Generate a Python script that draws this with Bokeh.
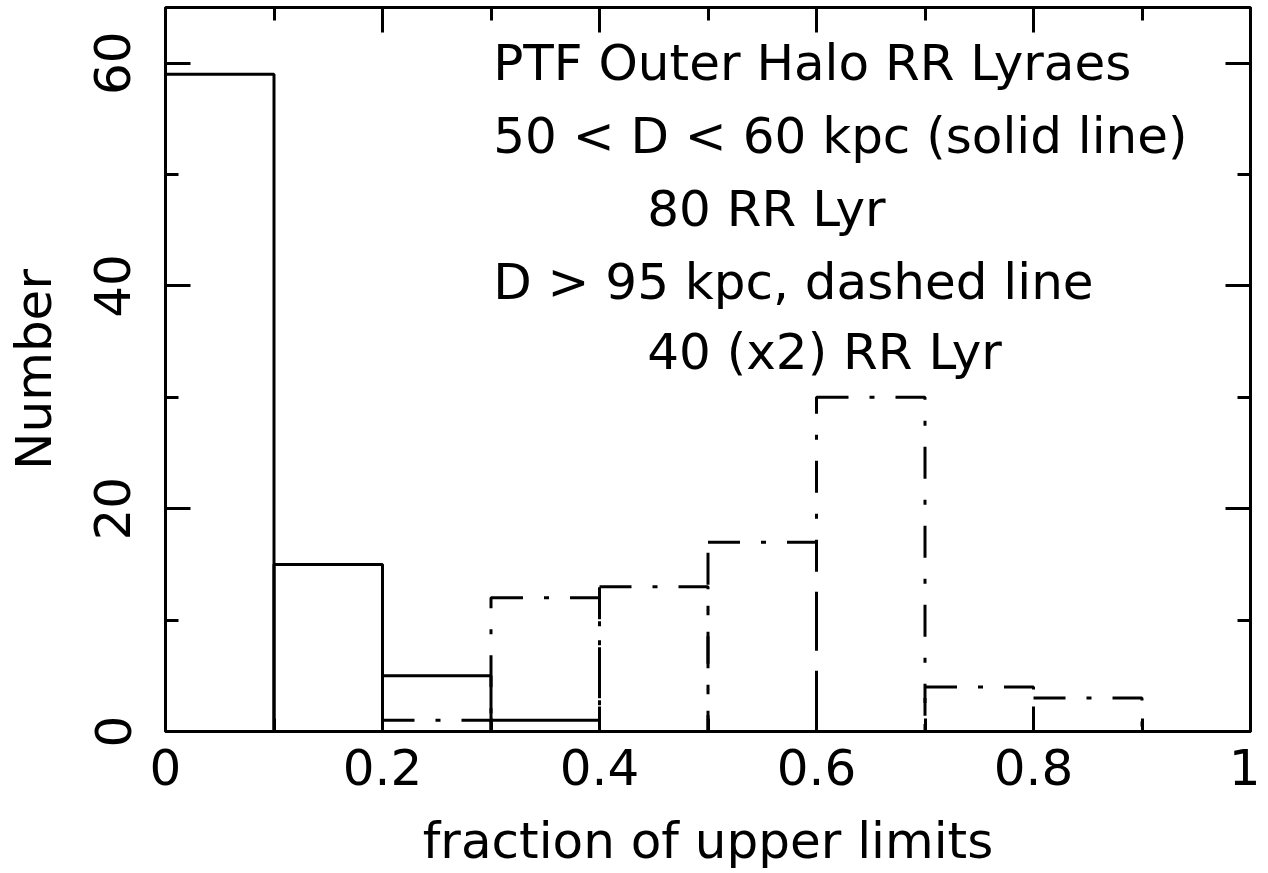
from bokeh.plotting import figure
from bokeh.models import LinearAxis, SingleIntervalTicker, Label, Range1d, CustomJSTickFormatter
from bokeh.embed import file_html
from bokeh.resources import INLINE

# ---- data ----
bin_edges = [0.0, 0.1, 0.2, 0.3, 0.4, 0.5, 0.6, 0.7, 0.8, 0.9, 1.0]
counts_near = [59, 15, 5, 1, 0, 0, 0, 0, 0, 0]      # 50 < D < 60 kpc (solid)
counts_far_x2 = [0, 0, 1, 12, 13, 17, 30, 4, 3, 0]  # D > 95 kpc (x2, dash-dot)
note_lines = ["PTF Outer Halo RR Lyraes",
              "50 < D < 60 kpc (solid line)",
              "80 RR Lyr",
              "D > 95 kpc, dashed line",
              "40 (x2) RR Lyr"]

FONT = "DejaVu Sans"
FS = "50px"

p = figure(width=1260, height=872, output_backend="svg", toolbar_location=None,
           x_range=Range1d(0, 1), y_range=Range1d(0, 65),
           min_border_left=165, min_border_right=10, min_border_top=7,
           min_border_bottom=135)
p.background_fill_color = "white"
p.border_fill_color = "white"
p.outline_line_color = "black"
p.outline_line_width = 3
p.xgrid.visible = False
p.ygrid.visible = False

left_edges = bin_edges[:-1]
right_edges = bin_edges[1:]

p.quad(left=left_edges, right=right_edges, bottom=0, top=counts_near,
       fill_color=None, line_color="black", line_width=3)
p.quad(left=left_edges, right=right_edges, bottom=0, top=counts_far_x2,
       fill_color=None, line_color="black", line_width=3,
       line_dash="32 21 5 21")

def style_axis(ax, labels=True):
    ax.axis_line_color = None
    ax.major_tick_in = 25
    ax.major_tick_out = 0
    ax.minor_tick_in = 13
    ax.minor_tick_out = 0
    ax.major_tick_line_width = 3
    ax.minor_tick_line_width = 3
    ax.major_tick_line_color = "black"
    ax.minor_tick_line_color = "black"
    ax.major_label_text_font = FONT
    ax.axis_label_text_font = FONT
    ax.major_label_text_color = "black"
    ax.axis_label_text_color = "black"
    ax.axis_label_text_font_style = "normal"
    ax.major_label_text_font_size = FS
    ax.axis_label_text_font_size = FS
    if not labels:
        ax.formatter = CustomJSTickFormatter(code="return ''")
        ax.major_label_standoff = 0

xa = p.xaxis[0]
xa.ticker = SingleIntervalTicker(interval=0.2, num_minor_ticks=2)
xa.axis_label = "fraction of upper limits"
style_axis(xa)
xa.major_label_standoff = 17
xa.axis_label_standoff = 24
xa.major_label_overrides = {0: "0", 1: "1"}

ya = p.yaxis[0]
ya.ticker = SingleIntervalTicker(interval=20, num_minor_ticks=2)
ya.axis_label = "Number"
style_axis(ya)
ya.major_label_orientation = "vertical"
ya.major_label_standoff = 35
ya.axis_label_standoff = 29

top_ax = LinearAxis(ticker=SingleIntervalTicker(interval=0.2, num_minor_ticks=2))
style_axis(top_ax, labels=False)
p.add_layout(top_ax, "above")
right_ax = LinearAxis(ticker=SingleIntervalTicker(interval=20, num_minor_ticks=2))
style_axis(right_ax, labels=False)
p.add_layout(right_ax, "right")

# annotation text (positions are layout)
note_x = [0.302, 0.302, 0.444, 0.302, 0.444]
note_y = [60.0, 53.5, 46.9, 40.4, 34.1]
for t, xx, yy in zip(note_lines, note_x, note_y):
    p.add_layout(Label(x=xx, y=yy, text=t, text_font=FONT, text_font_size=FS,
                       text_color="black", text_baseline="alphabetic",
                       text_align="left"))

open("out.html", "w").write(file_html(p, INLINE))
